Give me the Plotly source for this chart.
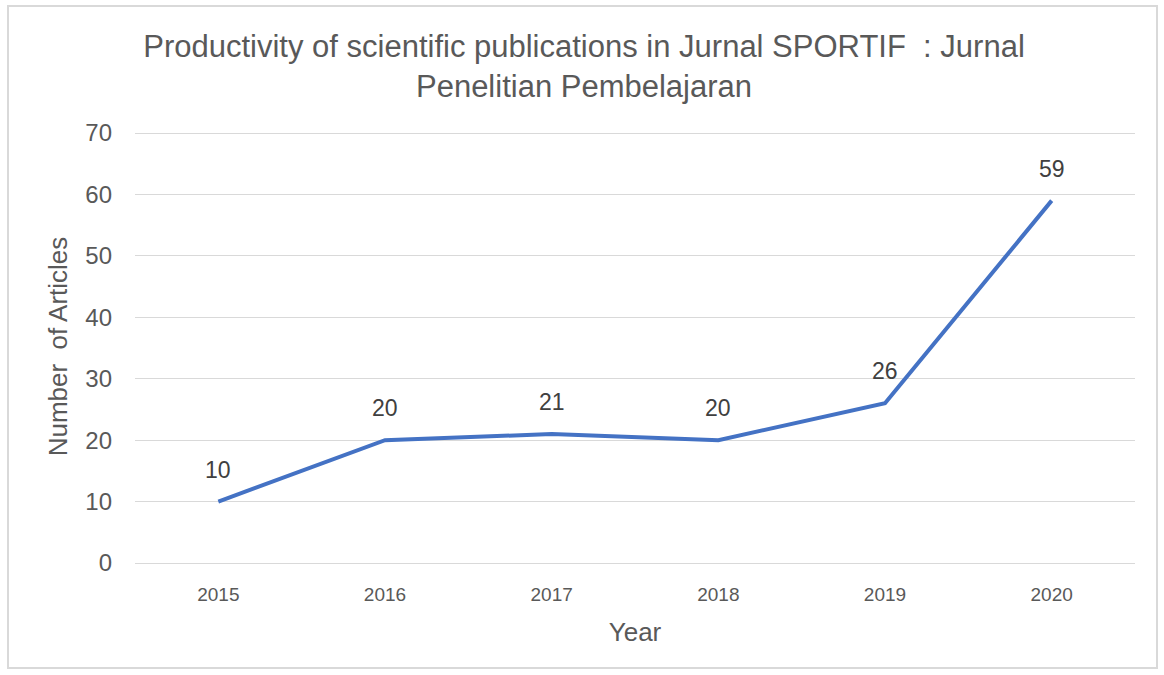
import plotly.graph_objects as go

years = ["2015", "2016", "2017", "2018", "2019", "2020"]
articles = [10, 20, 21, 20, 26, 59]

FONT = "Liberation Sans, Arial"

fig = go.Figure()
fig.add_trace(go.Scatter(
    x=years, y=articles, mode="lines",
    line=dict(color="#4472C4", width=4),
    showlegend=False, hoverinfo="x+y",
))

for i, v in enumerate(articles):
    fig.add_annotation(x=i, y=v, text=str(v), showarrow=False,
                       xanchor="center", yanchor="middle", yshift=32,
                       font=dict(family=FONT, size=23, color="#404040"))

W, H = 1164, 675
ml, mr, mt, mb = 135, 29, 130, 112
pw, ph = W - ml - mr, H - mt - mb

fig.update_layout(
    width=W, height=H,
    margin=dict(l=ml, r=mr, t=mt, b=mb),
    paper_bgcolor="white", plot_bgcolor="white",
    title=dict(
        text="Productivity of scientific publications in Jurnal SPORTIF  : Jurnal<br>Penelitian Pembelajaran",
        x=584 / W, xref="container", xanchor="center",
        y=1 - 57 / H, yref="container", yanchor="top",
        font=dict(family=FONT, size=31, color="#595959"),
    ),
    xaxis=dict(
        type="category", range=[-0.5, 5.5], showgrid=False, zeroline=False,
        showline=True, linecolor="#D9D9D9", linewidth=1,
        ticks="", ticklabelstandoff=14,
        tickfont=dict(family=FONT, size=19, color="#595959"),
        title=dict(text="Year", standoff=19,
                   font=dict(family=FONT, size=26, color="#595959")),
    ),
    yaxis=dict(
        range=[0, 70.5], tickvals=[0, 10, 20, 30, 40, 50, 60, 70],
        showgrid=True, gridcolor="#D9D9D9", gridwidth=1,
        zeroline=False, showline=False, ticks="", ticklabelstandoff=22,
        tickfont=dict(family=FONT, size=24, color="#595959"),
        title=dict(text="Number  of Articles", standoff=10,
                   font=dict(family=FONT, size=26, color="#595959")),
    ),
)

# outer chart border
fig.add_shape(type="rect", xref="paper", yref="paper",
              x0=(8 - ml) / pw, x1=(1157 - ml) / pw,
              y0=-(668 - mt - ph) / ph, y1=1 + (mt - 6) / ph,
              line=dict(color="#D9D9D9", width=2), layer="below")

fig.write_html("out.html")
